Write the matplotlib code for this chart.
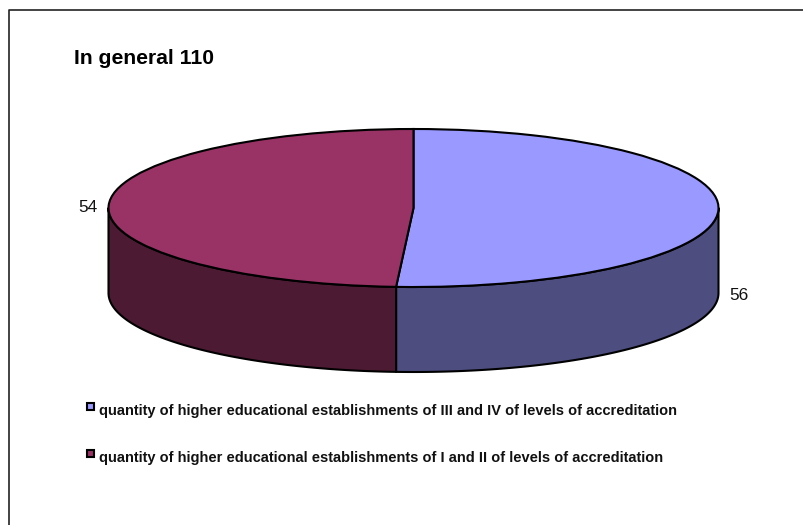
import numpy as np
import matplotlib
matplotlib.use("Agg")
import matplotlib.pyplot as plt
from matplotlib.patches import Rectangle

values = [56, 54]
value_labels = ["56", "54"]
title = "In general 110"
names = ["quantity of higher educational establishments of III and IV of levels of accreditation",
         "quantity of higher educational establishments of I and II of levels of accreditation"]
top_colors = ["#9999FF", "#993366"]
side_colors = ["#4D4D80", "#4D1A33"]

plt.rcParams['font.family'] = ['Liberation Sans', 'DejaVu Sans']

W, H = 804, 525
fig = plt.figure(figsize=(W / 100, H / 100), dpi=100)

# whole figure in pixels, for the frame and the texts
bg = fig.add_axes([0, 0, 1, 1])
bg.set_xlim(0, W)
bg.set_ylim(H, 0)
bg.axis("off")
bg.plot([9.5, 9.5, W], [H, 10, 10], color="#222222", lw=1.2)

# pie axes: one unit is the ellipse radius, so the pie gets flattened
cx, cy, rx, ry, depth = 413.5, 208, 305, 79, 85
ax = fig.add_axes([(cx - rx) / W, 1 - (cy + ry + depth) / H, 2 * rx / W, (2 * ry + depth) / H])
ax.pie(values, colors=top_colors, startangle=90, counterclock=False,
       wedgeprops=dict(edgecolor="black", linewidth=1.5, clip_on=False, zorder=3))
ax.set_aspect("auto")
ax.set_xlim(-1, 1)
d = depth / ry
ax.set_ylim(-1 - d, 1)
ax.axis("off")

# sides of the slices, only the part of the rim that faces front
start = 90.0
total = sum(values)
for v, c in zip(values, side_colors):
    end = start - 360.0 * v / total
    a1 = max(end, -180.0)
    a2 = min(start, 0.0)
    t = np.radians(np.linspace(a1, a2, 100))
    xs = np.concatenate([np.cos(t), np.cos(t)[::-1]])
    ys = np.concatenate([np.sin(t), np.sin(t)[::-1] - d])
    ax.fill(xs, ys, facecolor=c, edgecolor="black", linewidth=1.5, clip_on=False, zorder=2, joinstyle="round")
    start = end

bg.text(74, 59, title, fontsize=15.2, fontweight="bold", va="center", ha="left", color="black")
bg.text(729, 295.5, value_labels[0], fontsize=12.4, va="center", ha="left", color="#111111")
bg.text(78, 208, value_labels[1], fontsize=12.4, va="center", ha="left", color="#111111")

for y, n, c in zip([406, 453], names, top_colors):
    bg.add_patch(Rectangle((87.5, y - 3.5), 7, 7, facecolor=c, edgecolor="black", lw=1.5))
    bg.text(99, y + 5, n, fontsize=10.5, fontweight="bold", va="center", ha="left", color="#111111")

fig.savefig("out.png", dpi=100)
